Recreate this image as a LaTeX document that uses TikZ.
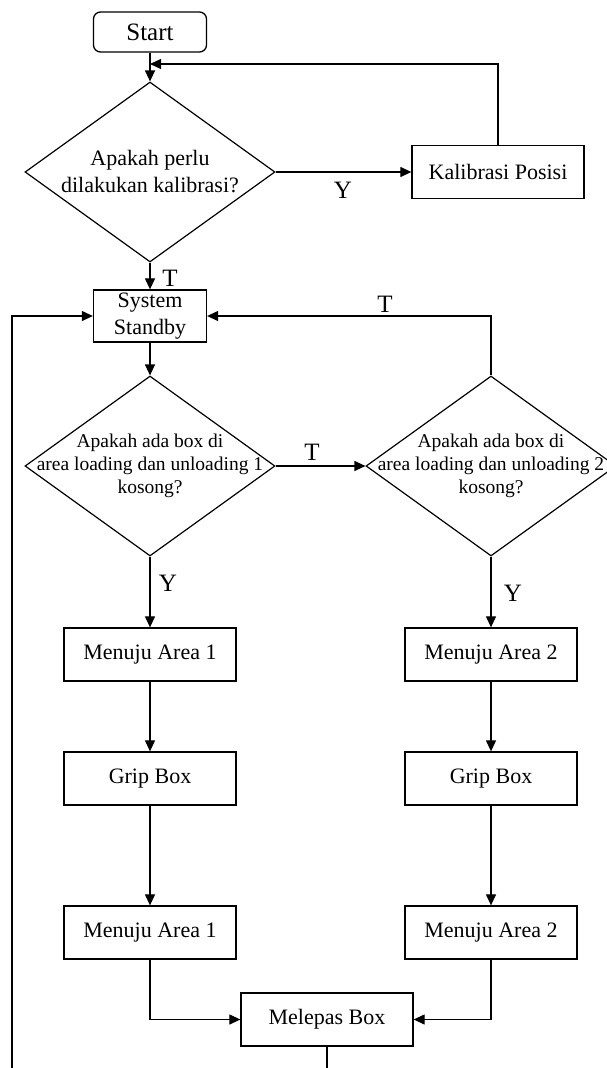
\documentclass[tikz,border=0pt]{standalone}
\usepackage{fontspec}
\setmainfont{Liberation Serif}
\usetikzlibrary{shapes.geometric,arrows.meta}
\begin{document}
\begin{tikzpicture}[x=1pt,y=-1pt,
  every node/.style={font=\fontsize{22}{27}\selectfont},
  conn/.style={line width=1.2pt},
  arr/.style={conn,-{Triangle[length=11pt,width=10pt]}},
  box/.style={draw, line width=1.3pt, minimum width=172pt, minimum height=53pt, inner sep=0pt, align=center},
  smallbox/.style={box, minimum width=113pt, minimum height=52pt},
  startbox/.style={draw, line width=1.3pt, rounded corners=7pt, minimum width=113pt, minimum height=40pt, inner sep=0pt, font=\fontsize{25}{30}\selectfont},
  decision/.style={draw, diamond, line width=1.2pt, minimum width=250pt, minimum height=180pt, inner sep=0pt},
  dtext/.style={align=center, inner sep=0pt},
  dtextsmall/.style={align=center, inner sep=0pt, font=\fontsize{19.5}{23}\selectfont},
  lbl/.style={inner sep=0pt, font=\fontsize{25}{30}\selectfont}
]
\useasboundingbox (0,0) rectangle (606,1068);

% nodes
\node[startbox] (start) at (150,32) {Start};
\node[decision] (d0) at (150,172) {};
\node[dtext] (d0t) at (d0.center) {Apakah perlu\\dilakukan kalibrasi?};
\node[box] (cal) at (498,172) {Kalibrasi Posisi};
\node[smallbox] (sb) at (150,316) {System\\Standby};
\node[decision] (da) at (150,466) {};
\node[dtextsmall] (dat) at (da.center) {Apakah ada box di\\area loading dan unloading 1\\kosong?};
\node[decision] (db) at (491,466) {};
\node[dtextsmall] (dbt) at (db.center) {Apakah ada box di\\area loading dan unloading 2\\kosong?};
\node[box] (m1) at (150,654.5) {Menuju Area 1};
\node[box] (g1) at (150,778.5) {Grip Box};
\node[box] (m1b) at (150,932.5) {Menuju Area 1};
\node[box] (m2) at (491,654.5) {Menuju Area 2};
\node[box] (g2) at (491,778.5) {Grip Box};
\node[box] (m2b) at (491,932.5) {Menuju Area 2};
\node[box] (mel) at (327,1019.5) {Melepas Box};

\coordinate (join) at (150,64);
\coordinate (leftend) at (12,1068);
\coordinate (melend) at (327,1068);

% connectors
\draw[arr] (start.south) -- (d0.north);
\draw[arr] (cal.north) |- (join);
\draw[arr] (d0.east) -- (cal.west);
\draw[arr] (d0.south) -- (sb.north);
\draw[arr] (sb.south) -- (da.north);
\draw[arr] (da.east) -- (db.west);
\draw[arr] (db.north) |- (sb.east);
\draw[arr] (da.south) -- (m1.north);
\draw[arr] (db.south) -- (m2.north);
\draw[arr] (m1.south) -- (g1.north);
\draw[arr] (g1.south) -- (m1b.north);
\draw[arr] (m2.south) -- (g2.north);
\draw[arr] (g2.south) -- (m2b.north);
\draw[arr] (m1b.south) |- (mel.west);
\draw[arr] (m2b.south) |- (mel.east);
\draw[conn] (mel.south) -- (melend);
\draw[arr] (leftend) |- (sb.west);

% labels
\node[lbl] (ly0) at (343,190) {Y};
\node[lbl] (lt0) at (170,278) {T};
\node[lbl] (lt1) at (385,304) {T};
\node[lbl] (lt2) at (312,452) {T};
\node[lbl] (ly1) at (168,583) {Y};
\node[lbl] (ly2) at (513,593) {Y};
\end{tikzpicture}
\end{document}
